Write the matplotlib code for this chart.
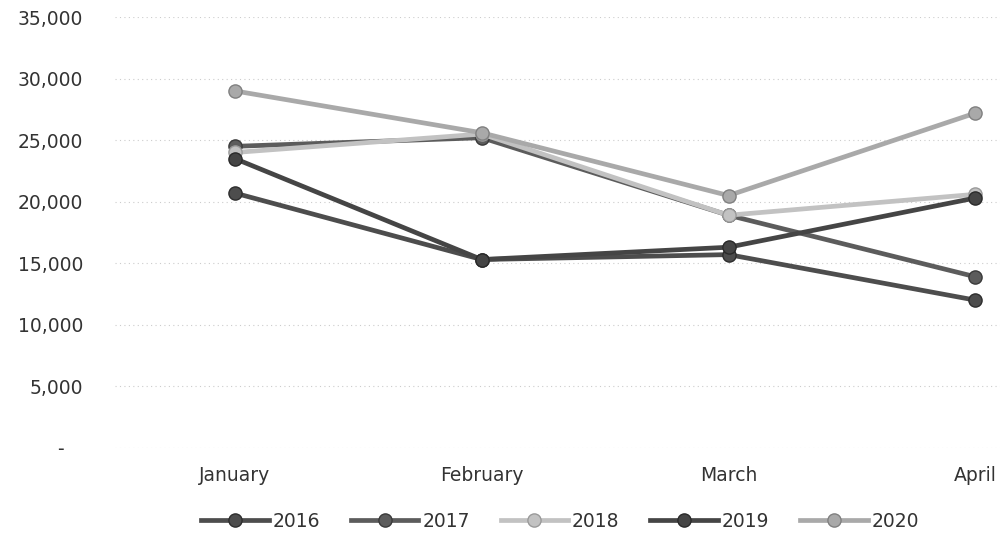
import matplotlib.pyplot as plt
from matplotlib.ticker import FuncFormatter

plt.rcParams['font.family'] = ['DejaVu Sans']

months = ['January', 'February', 'March', 'April']
years = ['2016', '2017', '2018', '2019', '2020']

y2016 = [20700, 15300, 15700, 12000]
y2017 = [24500, 25200, 18900, 13900]
y2018 = [24000, 25500, 18900, 20600]
y2019 = [23500, 15300, 16300, 20300]
y2020 = [29000, 25600, 20500, 27200]

series = [y2016, y2017, y2018, y2019, y2020]
colors = ['#4d4d4d', '#5c5c5c', '#c2c2c2', '#454545', '#a9a9a9']
edges = ['#2e2e2e', '#3a3a3a', '#9a9a9a', '#2a2a2a', '#808080']


def fmt(v, pos):
    if v == 0:
        return '-   '
    return '{:,.0f}'.format(v)


fig = plt.figure(figsize=(10, 5.35), dpi=100)
ax = fig.add_axes([0.115, 0.163, 0.885, 0.805])

x = list(range(len(months)))
for name, vals, c, ec in zip(years, series, colors, edges):
    ax.plot(x, vals, '-o', color=c, lw=3.4, ms=9.5, mfc=c, mec=ec,
            mew=1.0, label=name)

ax.set_ylim(0, 35000)
ax.set_yticks(range(0, 35001, 5000))
ax.yaxis.set_major_formatter(FuncFormatter(fmt))
ax.set_xlim(-0.486, 3.10)
ax.set_xticks(x)
ax.set_xticklabels(months)
ax.tick_params(axis='both', length=0, labelsize=13.5, colors='#333333')
ax.tick_params(axis='y', pad=23)
ax.tick_params(axis='x', pad=13)
ax.grid(axis='y', color='#cccccc', lw=0.8, ls=(0, (1, 3)))
for s in ax.spines.values():
    s.set_visible(False)

fig.legend(loc='center', bbox_to_anchor=(0.56, 0.026), ncol=5,
           frameon=False, fontsize=13.5, handlelength=3.6, columnspacing=1.65,
           handletextpad=0.2, labelcolor='#333333', borderpad=0)

plt.savefig('out.png', dpi=100)
